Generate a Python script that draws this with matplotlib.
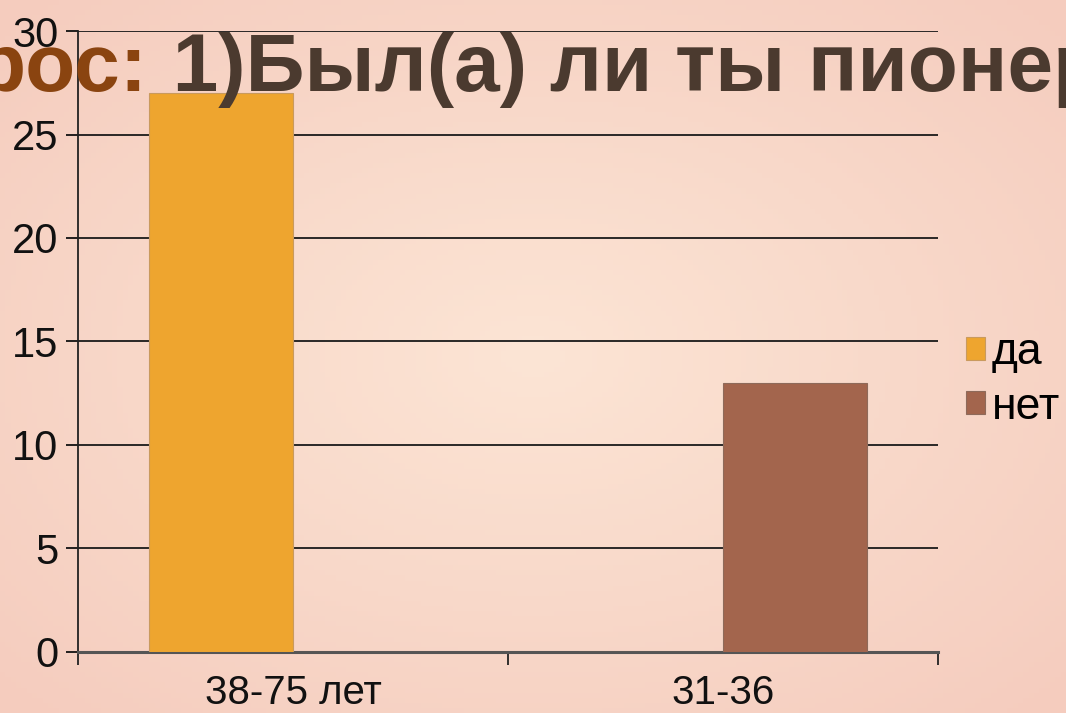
import numpy as np
import matplotlib.pyplot as plt

# data
categories = ['38-75 лет', '31-36']
series_names = ['да', 'нет']
da_values = [27, 0]
net_values = [0, 13]
y_ticks = [0, 5, 10, 15, 20, 25, 30]

plt.rcParams['font.family'] = ['Liberation Sans', 'DejaVu Sans']

fig = plt.figure(figsize=(10.66, 7.13), dpi=100)
fig.patch.set_facecolor('#F9DCCB')

# soft pink background, lighter in the middle like the slide
bg = fig.add_axes([0, 0, 1, 1], zorder=-10)
gx, gy = np.meshgrid(np.linspace(-1, 1, 200), np.linspace(-1, 1, 140))
r = np.clip(np.sqrt(gx ** 2 + gy ** 2) / 1.4, 0, 1)
light = np.array([252, 229, 213]) / 255
pink = np.array([245, 204, 190]) / 255
img = light[None, None, :] * (1 - r[..., None]) + pink[None, None, :] * r[..., None]
bg.imshow(img, aspect='auto', extent=[0, 1, 0, 1])
bg.axis('off')

ax = fig.add_axes([0.0732, 0.0856, 0.8068, 0.8709])
ax.set_facecolor('none')

x = np.arange(len(categories))
w = 0.335
ax.bar(x - w / 2, da_values, w, color='#EEA52F', edgecolor='#C99A5E', linewidth=0.8,
       label=series_names[0], zorder=3)
ax.bar(x + w / 2, net_values, w, color='#A3654D', edgecolor='#8E6A5A', linewidth=0.8,
       label=series_names[1], zorder=3)

ax.set_xlim(-0.5, 1.5)
ax.set_ylim(0, 30)
ax.set_yticks(y_ticks)
ax.yaxis.grid(True, color='#1a1a1a', linewidth=1.3, zorder=1)
ax.set_axisbelow(True)

ax.set_xticks(x)
ax.set_xticklabels(categories)
ax.set_xticks([-0.5, 0.5, 1.5], minor=True)
ax.tick_params(axis='x', which='major', length=0, pad=16, labelsize=29, colors='#111111')
ax.tick_params(axis='x', which='minor', length=9, width=1.3, direction='out', color='#222222')
ax.tick_params(axis='y', length=9, width=1.3, pad=5, labelsize=30, colors='#111111')

for side in ['top', 'right']:
    ax.spines[side].set_visible(False)
ax.spines['left'].set_color('#222222')
ax.spines['left'].set_linewidth(1.3)
ax.spines['bottom'].set_color('#555555')
ax.spines['bottom'].set_linewidth(2.2)

leg = ax.legend(loc='center left', bbox_to_anchor=(1.033, 0.438), frameon=False,
                fontsize=32, handlelength=0.42, handleheight=0.42, handletextpad=0.15,
                labelspacing=0.3, borderaxespad=0, borderpad=0)

# title, partly cut off on both sides as in the picture
fig.text(148 / 1066, 1 - 91 / 713, 'рос:', fontsize=59, fontweight='bold', color='#8A4410',
         ha='right', va='baseline', zorder=5)
fig.text(150 / 1066, 1 - 91 / 713, ' 1)Был(а) ли ты пионер', fontsize=59, fontweight='bold',
         color='#4B3A2F', ha='left', va='baseline', zorder=5)

fig.savefig('out.png', dpi=100, facecolor=fig.get_facecolor())
